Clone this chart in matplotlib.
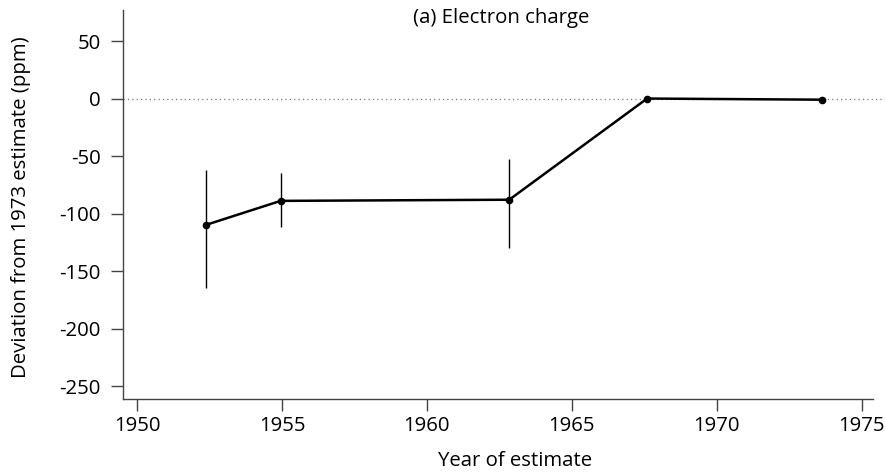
import matplotlib.pyplot as plt

plt.rcParams['font.family'] = ['Open Sans', 'DejaVu Sans']
plt.rcParams['axes.unicode_minus'] = False

# Successive estimates of the electron charge, deviation from the 1973 value
years = [1952.36, 1954.95, 1962.84, 1967.6, 1973.65]
deviation = [-110, -89, -88, 0, -1]
err_low = [-165, -112, -130, None, None]
err_high = [-62, -65, -53, None, None]

fig = plt.figure(figsize=(8.85, 4.74), dpi=100)
ax = fig.add_axes([123 / 885, 1 - 399 / 474, 1 - 123 / 885, 389 / 474])

x0, x1 = 1949.51, 1975.81
ax.set_xlim(x0, x1)
ax.set_ylim(-261.3, 77)

# zero reference line
ax.axhline(0, color='#777777', lw=0.9, ls=(0, (1, 2.5)), zorder=1)

# error bars (vertical lines only, no caps)
for x, lo, hi in zip(years, err_low, err_high):
    if lo is not None:
        ax.vlines(x, lo, hi, color='black', lw=1.0, zorder=2)

ax.plot(years, deviation, color='black', lw=1.8, marker='o', ms=4.5, zorder=3)

ax.text((501 - 123) / 762, 70, '(a) Electron charge',
        transform=ax.get_yaxis_transform(), ha='center', va='center',
        fontsize=14.7)

ax.set_xticks([1950, 1955, 1960, 1965, 1970, 1975])
ax.set_yticks([50, 0, -50, -100, -150, -200, -250])

for s in ['top', 'right']:
    ax.spines[s].set_visible(False)
for s in ['left', 'bottom']:
    ax.spines[s].set_color('#444444')
    ax.spines[s].set_linewidth(1.0)
ax.spines['bottom'].set_bounds(x0, 1975.41)

ax.tick_params(axis='both', length=8.5, width=1.0, color='#444444',
               labelsize=14.7, labelcolor='black')
ax.tick_params(axis='y', pad=7.5)
ax.tick_params(axis='x', pad=3.5)

ax.set_xlabel('Year of estimate', fontsize=14.7, va='center')
ax.set_ylabel('Deviation from 1973 estimate (ppm)', fontsize=14.7,
              va='center')
ax.xaxis.set_label_coords((515 - 123) / 762, -(461 - 399) / 389)
ax.yaxis.set_label_coords(-(123 - 21) / 762, (399 - 207) / 389)

fig.savefig('out.png', dpi=100)
